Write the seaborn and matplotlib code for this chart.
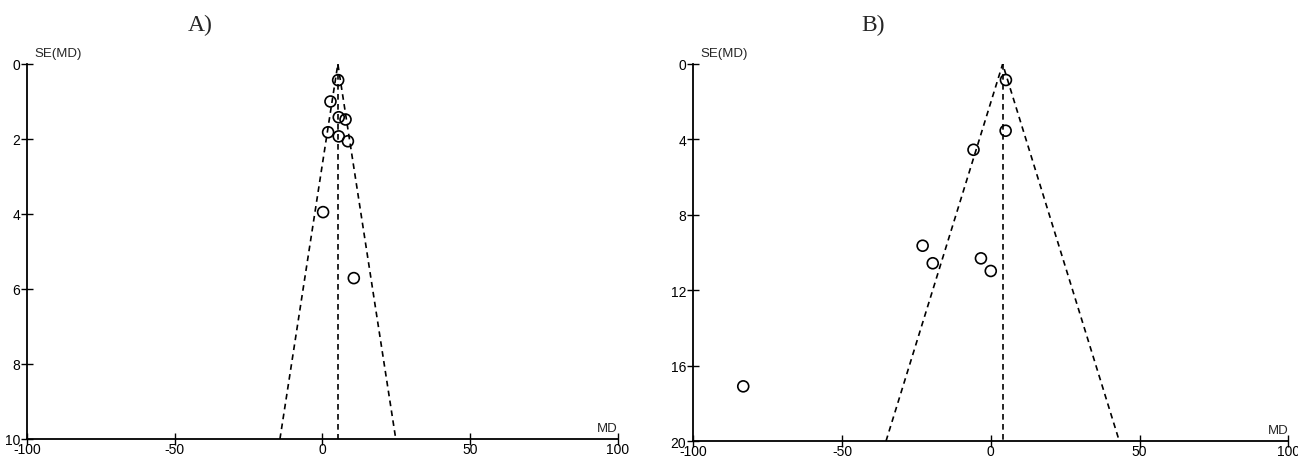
import matplotlib
matplotlib.use("Agg")
import matplotlib.pyplot as plt
import pandas as pd
import seaborn as sns

# panel A: mean difference vs standard error
md_a = [5.3, 2.7, 5.5, 7.8, 1.9, 5.5, 8.6, 0.2, 10.6]
se_a = [0.43, 1.0, 1.42, 1.48, 1.82, 1.93, 2.06, 3.95, 5.71]
pooled_a = 5.2
se_max_a = 10
yticks_a = [0, 2, 4, 6, 8, 10]

# panel B
md_b = [5.1, 5.0, -5.8, -22.9, -19.5, -3.3, 0.0, -83.2]
se_b = [0.85, 3.54, 4.55, 9.64, 10.57, 10.31, 10.98, 17.1]
pooled_b = 4.0
se_max_b = 20
yticks_b = [0, 4, 8, 12, 16, 20]

xticks = [-100, -50, 0, 50, 100]

sns.set_style("ticks")
plt.rcParams["font.family"] = ["Liberation Sans", "DejaVu Sans"]
plt.rcParams["axes.unicode_minus"] = False


def funnel(ax, md, se, pooled, se_max, yticks):
    df = pd.DataFrame({"MD": md, "SE": se})
    sns.scatterplot(data=df, x="MD", y="SE", ax=ax, marker="o", s=62,
                    facecolor="none", edgecolor="black", linewidth=1.2,
                    clip_on=False, zorder=3)
    dash = (0, (3.4, 2.6))
    ax.plot([pooled - 1.96 * se_max, pooled, pooled + 1.96 * se_max],
            [se_max, 0, se_max], color="black", lw=1.2, ls=dash)
    ax.plot([pooled, pooled], [0, se_max], color="black", lw=1.2, ls=dash)

    ax.set_xlim(-100, 100)
    ax.set_ylim(se_max, 0)
    ax.set_xticks(xticks)
    ax.set_yticks(yticks)
    ax.set_xlabel("")
    ax.set_ylabel("")
    ax.tick_params(direction="inout", length=8, width=1, labelsize=10,
                   pad=1, colors="black")
    ax.tick_params(axis="x", pad=-1.5)
    sns.despine(ax=ax)
    for side in ("left", "bottom"):
        ax.spines[side].set_linewidth(1.3)
        ax.spines[side].set_color("black")
    ax.text(0.012, 1.012, "SE(MD)", transform=ax.transAxes, fontsize=9.5,
            ha="left", va="bottom")
    ax.text(1.0, 0.012, "MD", transform=ax.transAxes, fontsize=9.5,
            ha="right", va="bottom")


fig = plt.figure(figsize=(12.98, 4.6), dpi=100)
ax_a = fig.add_axes([0.0208, 0.0435, 0.4553, 0.8152])
ax_b = fig.add_axes([0.5341, 0.0391, 0.4584, 0.8196])

funnel(ax_a, md_a, se_a, pooled_a, se_max_a, yticks_a)
funnel(ax_b, md_b, se_b, pooled_b, se_max_b, yticks_b)

fig.text(200 / 1298, 1 - 25 / 460, "A)", fontsize=17,
         family="Liberation Serif", ha="center", va="center")
fig.text(873 / 1298, 1 - 25 / 460, "B)", fontsize=17,
         family="Liberation Serif", ha="center", va="center")

fig.savefig("out.png", dpi=100)
